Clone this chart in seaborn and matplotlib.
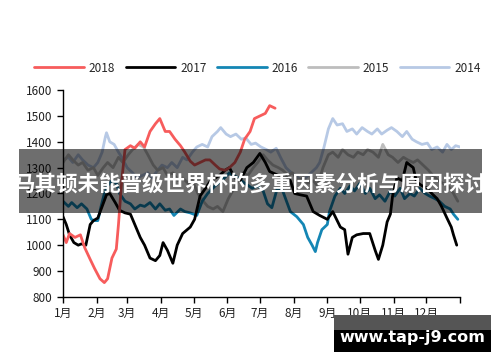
import matplotlib
matplotlib.use("Agg")
import matplotlib.pyplot as plt
import seaborn as sns
import pandas as pd
from matplotlib.patches import Rectangle

# day-of-year positions and values
days_2018 = [0, 3, 6, 11, 16, 20, 25, 29, 34, 38, 41, 45, 49, 51, 54, 57, 62, 66, 71, 75,
             80, 85, 89, 94, 98, 103, 108, 112, 117, 121, 126, 131, 135, 140, 144, 149, 153,
             158, 163, 167, 172, 176, 181, 186, 190, 195]
vals_2018 = [1040, 1010, 1045, 1030, 1040, 990, 945, 910, 870, 855, 870, 950, 985, 1080, 1250,
             1370, 1385, 1375, 1400, 1380, 1440, 1470, 1490, 1440, 1440, 1410, 1385, 1360, 1325,
             1310, 1320, 1330, 1330, 1310, 1295, 1290, 1300, 1320, 1360, 1410, 1440, 1490, 1500,
             1510, 1540, 1530]

days_2017 = [0, 3, 6, 10, 14, 17, 21, 25, 28, 32, 36, 40, 43, 48, 52, 57, 62, 66, 71, 75,
             80, 85, 89, 92, 96, 98, 101, 105, 110, 117, 121, 126, 131, 135, 140, 144, 149, 153,
             158, 163, 169, 175, 181, 186, 190, 198, 204, 209, 213, 218, 224, 230, 236, 243, 248,
             255, 259, 262, 266, 270, 276, 282, 287, 290, 294, 298, 301, 303, 307, 312, 316, 319,
             322, 325, 330, 335, 339, 344, 348, 353, 357, 359, 362]
vals_2017 = [1110, 1080, 1040, 1010, 1000, 1005, 1000, 1080, 1095, 1105, 1150, 1195, 1200, 1165,
             1135, 1125, 1120, 1080, 1030, 1000, 950, 940, 960, 1010, 980, 960, 930, 1000, 1045,
             1070, 1100, 1190, 1220, 1245, 1260, 1270, 1290, 1300, 1260, 1250, 1300, 1320, 1355,
             1320, 1285, 1270, 1270, 1250, 1200, 1195, 1190, 1130, 1115, 1100, 1130, 1070, 1060,
             965, 1030, 1040, 1045, 1045, 980, 945, 1000, 1090, 1120, 1190, 1260, 1250, 1320,
             1310, 1300, 1245, 1230, 1220, 1200, 1180, 1150, 1105, 1070, 1040, 1000]

days_2016 = [0, 5, 8, 13, 17, 22, 26, 29, 32, 35, 38, 41, 45, 49, 52, 57, 62, 66, 71, 75,
             80, 85, 89, 94, 98, 102, 108, 112, 117, 123, 128, 133, 140, 146, 153, 161, 167, 174,
             179, 184, 188, 192, 197, 202, 209, 215, 221, 225, 229, 232, 234, 238, 243, 245, 250,
             255, 259, 264, 268, 273, 278, 282, 287, 291, 296, 301, 305, 310, 314, 319, 323, 328,
             333, 337, 342, 346, 351, 356, 359, 363]
vals_2016 = [1170, 1150, 1165, 1145, 1160, 1140, 1100, 1095, 1095, 1150, 1200, 1230, 1250, 1240,
             1200, 1170, 1160, 1140, 1155, 1150, 1165, 1140, 1160, 1135, 1140, 1115, 1140, 1130,
             1125, 1115, 1170, 1200, 1230, 1250, 1280, 1260, 1240, 1220, 1230, 1210, 1160, 1145,
             1220, 1210, 1130, 1110, 1080, 1030, 1000, 975, 1010, 1060, 1080, 1130, 1190, 1220,
             1200, 1230, 1210, 1240, 1200, 1220, 1180, 1195, 1170, 1210, 1190, 1220, 1180, 1200,
             1190, 1220, 1200, 1190, 1180, 1170, 1150, 1140, 1120, 1100]

days_2015 = [0, 5, 9, 14, 18, 23, 28, 32, 37, 41, 46, 51, 55, 60, 64, 69, 74, 78, 83, 87,
             92, 96, 101, 106, 110, 115, 119, 124, 129, 133, 138, 142, 147, 152, 156, 161, 165,
             170, 175, 179, 184, 188, 193, 198, 202, 207, 211, 216, 221, 225, 230, 234, 239, 244,
             248, 253, 257, 262, 267, 271, 276, 280, 285, 290, 294, 299, 303, 308, 313, 317, 322,
             326, 331, 336, 340, 345, 349, 354, 359, 363]
vals_2015 = [1320, 1350, 1330, 1310, 1320, 1290, 1300, 1270, 1300, 1320, 1300, 1340, 1320, 1350,
             1370, 1390, 1380, 1350, 1310, 1290, 1300, 1270, 1280, 1250, 1260, 1240, 1250, 1200,
             1170, 1150, 1140, 1150, 1130, 1180, 1210, 1250, 1280, 1270, 1300, 1320, 1350, 1330,
             1310, 1300, 1290, 1270, 1280, 1250, 1260, 1240, 1250, 1230, 1300, 1350, 1360, 1340,
             1370, 1350, 1340, 1360, 1350, 1370, 1360, 1340, 1390, 1350, 1340, 1320, 1340, 1330,
             1320, 1330, 1310, 1290, 1270, 1250, 1240, 1230, 1200, 1170]

days_2014 = [0, 5, 9, 14, 18, 23, 28, 32, 36, 39, 40, 43, 47, 51, 54, 59, 64, 68, 73, 78,
             82, 87, 91, 96, 100, 105, 110, 114, 119, 123, 128, 133, 137, 142, 145, 150, 154, 159,
             164, 168, 173, 177, 182, 187, 191, 196, 200, 205, 210, 214, 219, 223, 228, 233, 236,
             240, 244, 248, 252, 257, 261, 266, 270, 275, 280, 284, 289, 293, 298, 302, 307, 312,
             316, 321, 325, 330, 335, 339, 344, 349, 353, 357, 361, 365]
vals_2014 = [1330, 1340, 1320, 1350, 1330, 1310, 1300, 1320, 1360, 1420, 1435, 1400, 1390, 1360,
             1340, 1300, 1280, 1260, 1270, 1280, 1260, 1290, 1310, 1300, 1320, 1300, 1340, 1330,
             1360, 1380, 1390, 1380, 1420, 1440, 1455, 1430, 1420, 1430, 1410, 1415, 1390, 1395,
             1380, 1370, 1360, 1375, 1340, 1300, 1280, 1270, 1250, 1260, 1280, 1300, 1320, 1380,
             1450, 1490, 1465, 1470, 1440, 1450, 1430, 1455, 1440, 1430, 1450, 1430, 1445, 1455,
             1440, 1420, 1440, 1410, 1400, 1390, 1395, 1370, 1380, 1360, 1390, 1370, 1385, 1380]

month_starts = [0, 31, 59, 90, 120, 151, 181, 212, 243, 273, 304, 334, 365]
month_labels = ["1月", "2月", "3月", "4月", "5月", "6月", "7月", "8月", "9月", "10月", "11月", "12月", ""]

series = {
    "2018": (days_2018, vals_2018, "#F75C5C"),
    "2017": (days_2017, vals_2017, "#000000"),
    "2016": (days_2016, vals_2016, "#1486B4"),
    "2015": (days_2015, vals_2015, "#BDBDBD"),
    "2014": (days_2014, vals_2014, "#B7C9E5"),
}

sns.set_style("white")
plt.rcParams["font.family"] = ["Noto Sans CJK SC", "DejaVu Sans"]

fig = plt.figure(figsize=(5, 3.62), dpi=100)
ax = fig.add_axes([0.126, 0.18, 0.794, 0.571])

handles = {}
for name in ["2014", "2015", "2016", "2017", "2018"]:
    d, v, c = series[name]
    df = pd.DataFrame({"day": d, "val": v})
    sns.lineplot(data=df, x="day", y="val", color=c, linewidth=2.0, ax=ax, label=name,
                 sort=False, legend=False)
    handles[name] = ax.lines[-1]

ax.set_xlim(0, 365)
ax.set_ylim(800, 1600)
ax.set_yticks(range(800, 1601, 100))
ax.set_xticks(month_starts)
ax.set_xticklabels(month_labels)
ax.set_xlabel("")
ax.set_ylabel("")
for s in ["top", "right"]:
    ax.spines[s].set_visible(False)
for s in ["left", "bottom"]:
    ax.spines[s].set_color("black")
    ax.spines[s].set_linewidth(1.0)
ax.tick_params(axis="both", which="both", direction="out", length=4, width=1,
               colors="black", labelsize=8.5, labelcolor="#222222", bottom=True, left=True)

order = ["2018", "2017", "2016", "2015", "2014"]
fig.legend([handles[k] for k in order], order, loc="center", bbox_to_anchor=(0.515, 0.812),
           ncol=5, frameon=False, fontsize=8.5, handlelength=4.2, handletextpad=0.4,
           columnspacing=0.9)

# overlay banner
fig.add_artist(Rectangle((0.038, 0.4116), 0.926, 0.177, transform=fig.transFigure,
                         facecolor="black", alpha=0.57, edgecolor="none", zorder=10))
fig.text(0.5, 0.491, "马其顿未能晋级世界杯的多重因素分析与原因探讨", color="white",
         fontsize=15.5, fontweight="bold", ha="center", va="center", zorder=11)

# watermark
fig.add_artist(Rectangle((0.668, 0.0884), 0.314, 0.0414, transform=fig.transFigure,
                         facecolor="#555555", edgecolor="none", zorder=10))
fig.add_artist(Rectangle((0.668, 0.0276), 0.314, 0.0608, transform=fig.transFigure,
                         facecolor="black", edgecolor="none", zorder=10))
fig.text(0.825, 0.069, "www.tap-j9.com", color="white", fontsize=11.5, fontweight="bold",
         ha="center", va="center", family="DejaVu Sans", zorder=11)

fig.savefig("out.png", dpi=100)
